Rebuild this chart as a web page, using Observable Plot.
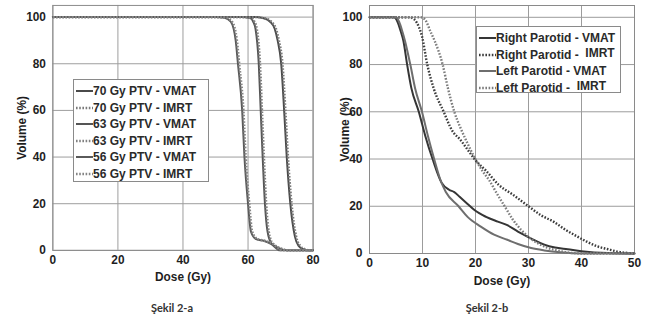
<!DOCTYPE html>
<html><head><meta charset="utf-8">
<script src="https://cdn.jsdelivr.net/npm/d3@7"></script>
<script src="https://cdn.jsdelivr.net/npm/@observablehq/plot@0.6"></script>
<style>
body{margin:0;background:#fff;}
#wrap{position:relative;width:650px;height:323px;background:#fff;overflow:hidden;}
.panel{position:absolute;top:0;height:290px;overflow:hidden;}
.legend{position:absolute;background:#fff;border:1px solid #8a8a8a;font:bold 12px "Liberation Sans",Arial,sans-serif;color:#2a2a2a;box-sizing:border-box;padding-top:3px;}
.legend .row{display:flex;align-items:center;height:16.5px;white-space:pre;}
.legend svg{flex:none;margin-left:2px;}
.legend .up{position:relative;top:-2px;}
.cap{position:absolute;top:301px;font:bold 11px Lato,"Noto Sans",sans-serif;color:#333;transform:translateX(-50%);white-space:nowrap;}
</style></head><body><div id="wrap"></div>
<script>
// ---------- Data: Şekil 2-a (PTV DVH) ----------
const ptvNames = ["70 Gy PTV - VMAT","70 Gy PTV - IMRT","63 Gy PTV - VMAT","63 Gy PTV - IMRT","56 Gy PTV - VMAT","56 Gy PTV - IMRT"];
const ptv70VmatDose = [0,62,64.8,66.8,68.2,69.1,70.2,71.1,71.9,73.0,74.4,75.5,77.0,78.5,80];
const ptv70VmatVol  = [100,100,99.5,98,95,90,80,60,40,20,6,2,0.5,0,0];
const ptv70ImrtDose = [0,62,65.2,67.2,68.6,69.5,70.6,71.5,72.3,73.4,74.8,76.0,77.5,79.0,80];
const ptv70ImrtVol  = [100,100,99.5,98,95,90,80,60,40,20,6,2,0.5,0,0];
const ptv63VmatDose = [0,58,60.8,61.6,62.3,63.3,63.9,64.5,65.2,66.0,67.2,69.5,72.0,80];
const ptv63VmatVol  = [100,100,99.5,98,95,80,60,40,20,8,3,1,0,0];
const ptv63ImrtDose = [0,58,61.2,62.0,62.7,63.7,64.3,64.9,65.6,66.4,67.6,69.9,72.4,80];
const ptv63ImrtVol  = [100,100,99.5,98,95,80,60,40,20,8,3,1,0,0];
const ptv56VmatDose = [0,50,52.8,54.7,56.2,56.9,58.2,58.9,60.0,60.9,62.5,65.0,67.2,69.8,80];
const ptv56VmatVol  = [100,100,99.7,98,90,80,60,40,20,8,4.8,4,2.7,0,0];
const ptv56ImrtDose = [0,50,53.2,55.1,56.6,57.3,58.6,59.3,60.4,61.3,63.0,65.6,67.8,70.4,80];
const ptv56ImrtVol  = [100,100,99.7,98,90,80,60,40,20,8,4.8,4,2.7,0,0];
const ptvXTicks = [0,20,40,60,80];

// ---------- Data: Şekil 2-b (Parotid DVH) ----------
const parNames = ["Right Parotid - VMAT","Right Parotid - IMRT","Left Parotid - VMAT","Left Parotid - IMRT"];
const rParVmatDose = [0,4.6,5.3,5.9,6.4,7.1,7.9,9.3,10.5,11.9,13.6,15.0,16.0,17.0,18.5,19.8,22.0,24.2,26.0,28.0,31.0,33.0,35.0,37.4,40,45,50];
const rParVmatVol  = [100,100,98,94,90,80,70,60,50,40,30,27,26,24,21,18.4,15.5,13.5,12,9.3,5.8,3.7,2.5,1.8,1,0.2,0];
const rParImrtDose = [0,7.4,8.5,9.3,9.9,10.9,12.1,14.0,15.6,17.2,18.5,20.0,22.0,24.4,27.0,30.0,32.5,34.7,37.0,39.2,41.0,43.0,45.0,46.8,50];
const rParImrtVol  = [100,100,99,96,92,80,70,60,52,48,44,39.5,35,29,25,20,16,13.5,10,7.2,5,3,1.8,0.8,0];
const lParVmatDose = [0,5.0,5.6,6.2,6.7,7.7,8.6,9.9,11.0,12.2,13.4,14.4,16.8,18.5,21.0,23.5,26.0,28.0,30.5,33.0,36.0,40,50];
const lParVmatVol  = [100,100,98,94,90,80,70,60,50,40,31,26,20,15.5,11.4,8,5.8,4,2.3,1.3,0.5,0,0];
const lParImrtDose = [0,9.7,10.5,11.5,12.3,13.8,14.8,16.0,17.2,18.2,20.1,21.3,22.6,24.0,25.5,27.0,28.6,30.0,31.8,33.5,36.0,40,50];
const lParImrtVol  = [100,100,99,94,90,80,70,60,53,48,39.5,35,31,25.5,20,14.5,10,7,4.3,2.5,1,0,0];
const parXTicks = [0,10,20,30,40,50];

const yTicks = [0,20,40,60,80,100];
const yLabel = "Volume (%)";
const xLabel = "Dose (Gy)";
const captions = ["Şekil 2-a","Şekil 2-b"];

// ---------- Styles ----------
const ptvColors = ["#4a4a4a","#7a7a7a","#555555","#808080","#5a5a5a","#848484"];
const parColors = ["#353535","#3c3c3c","#6e6e6e","#7c7c7c"];
const dotPattern = "1.6,1.6";

function toRows(names, doses, vols) {
  return names.flatMap((name, k) => doses[k].map((d, i) => ({series: name, method: name.endsWith("VMAT") ? "VMAT" : "IMRT", dose: d, vol: vols[k][i]})));
}

function panel({names, doses, vols, colors, xDomain, xTicks, width, marginLeft, marginRight, yLabelOffset}) {
  const rows = toRows(names, doses, vols);
  return Plot.plot({
    width, height: 290, marginTop: 5, marginBottom: 37, marginLeft, marginRight,
    style: {fontFamily: '"Liberation Sans", Arial, sans-serif', fontSize: "12px", fontWeight: "bold", color: "#1e1e1e", background: "transparent"},
    x: {domain: xDomain},
    y: {domain: [0, 105]},
    color: {domain: names, range: colors},
    marks: [
      Plot.gridX(xTicks, {stroke: "#9c9c9c", strokeOpacity: 1, strokeWidth: 1}),
      Plot.gridY(yTicks, {stroke: "#9c9c9c", strokeOpacity: 1, strokeWidth: 1}),
      Plot.frame({stroke: "#8a8a8a"}),
      Plot.axisX(xTicks, {tickSize: 0, tickPadding: 5, label: xLabel, labelAnchor: "center", labelOffset: 31, labelArrow: "none"}),
      Plot.axisY(yTicks, {tickSize: 0, tickPadding: 7, label: yLabel, labelAnchor: "center", labelOffset: yLabelOffset, labelArrow: "none"}),
      Plot.line(rows.filter(d => d.method === "VMAT"), {x: "dose", y: "vol", z: "series", stroke: "series", strokeWidth: 2, curve: "monotone-x"}),
      Plot.line(rows.filter(d => d.method === "IMRT"), {x: "dose", y: "vol", z: "series", stroke: "series", strokeWidth: 2.4, strokeDasharray: dotPattern, strokeLinecap: "butt", curve: "monotone-x"})
    ]
  });
}

const wrap = document.getElementById("wrap");

function addPanel(left, clipWidth, chart) {
  const div = document.createElement("div");
  div.className = "panel";
  div.style.left = left + "px";
  div.style.width = clipWidth + "px";
  div.appendChild(chart);
  wrap.appendChild(div);
}

addPanel(0, 321, panel({
  names: ptvNames,
  doses: [ptv70VmatDose, ptv70ImrtDose, ptv63VmatDose, ptv63ImrtDose, ptv56VmatDose, ptv56ImrtDose],
  vols: [ptv70VmatVol, ptv70ImrtVol, ptv63VmatVol, ptv63ImrtVol, ptv56VmatVol, ptv56ImrtVol],
  colors: ptvColors, xDomain: [0, 80], xTicks: ptvXTicks,
  width: 325, marginLeft: 53, marginRight: 8.5, yLabelOffset: 36
}));

addPanel(325, 325, panel({
  names: parNames,
  doses: [rParVmatDose, rParImrtDose, lParVmatDose, lParImrtDose],
  vols: [rParVmatVol, rParImrtVol, lParVmatVol, lParImrtVol],
  colors: parColors, xDomain: [0, 50], xTicks: parXTicks,
  width: 325, marginLeft: 44, marginRight: 16, yLabelOffset: 29
}));

function addLegend(names, colors, box, raiseImrt) {
  const lg = document.createElement("div");
  lg.className = "legend";
  Object.assign(lg.style, {left: box[0] + "px", top: box[1] + "px", width: box[2] + "px", height: box[3] + "px"});
  names.forEach((name, i) => {
    const row = document.createElement("div");
    row.className = "row";
    const dashed = name.endsWith("IMRT");
    const ns = "http://www.w3.org/2000/svg";
    const svg = document.createElementNS(ns, "svg");
    svg.setAttribute("width", 17); svg.setAttribute("height", 6);
    const ln = document.createElementNS(ns, "line");
    ln.setAttribute("x1", 0); ln.setAttribute("x2", 17); ln.setAttribute("y1", 3); ln.setAttribute("y2", 3);
    ln.setAttribute("stroke", colors[i]); ln.setAttribute("stroke-width", dashed ? 2.4 : 2);
    if (dashed) ln.setAttribute("stroke-dasharray", dotPattern);
    svg.appendChild(ln);
    row.appendChild(svg);
    if (raiseImrt && dashed) {
      const base = name.replace("IMRT", "");
      row.appendChild(document.createTextNode(base + " "));
      const up = document.createElement("span");
      up.className = "up"; up.textContent = "IMRT";
      row.appendChild(up);
    } else {
      row.appendChild(document.createTextNode(name));
    }
    lg.appendChild(row);
  });
  wrap.appendChild(lg);
}

addLegend(ptvNames, ptvColors, [73, 79, 136, 103], false);
addLegend(parNames, parColors, [476, 26, 145, 67], true);

[[172, captions[0]], [487, captions[1]]].forEach(([x, t]) => {
  const c = document.createElement("div");
  c.className = "cap"; c.style.left = x + "px"; c.textContent = t;
  wrap.appendChild(c);
});
</script>
</body></html>
